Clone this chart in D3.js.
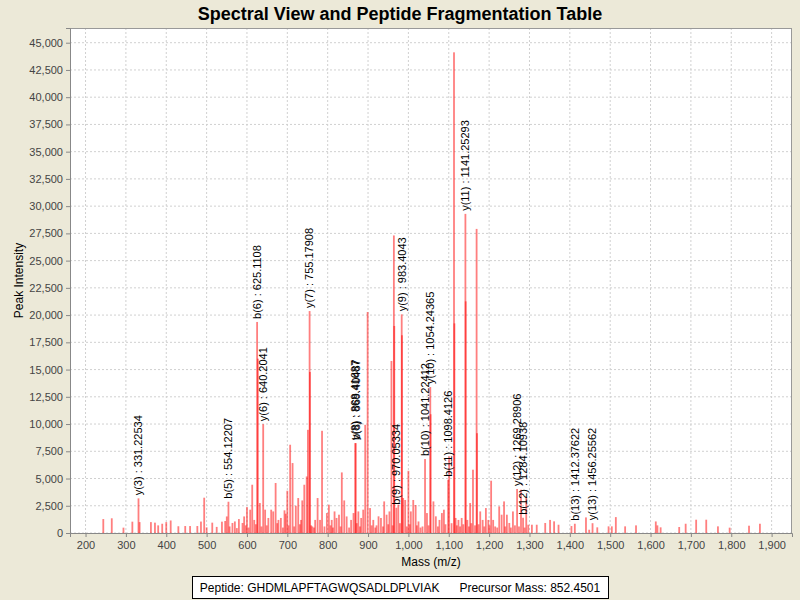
<!DOCTYPE html>
<html>
<head>
  <script src="https://cdnjs.cloudflare.com/ajax/libs/d3/7.8.5/d3.min.js"></script>
  <style>
    body { margin: 0; background: #ece9d8; }
    svg { display: block; font-family: "Liberation Sans", Arial, sans-serif; }
    .tick text { fill: #444; font-size: 11px; }
    .tick line { stroke: #888; }
    .grid line { stroke: #d0d0d0; stroke-dasharray: 2,2; }
    .ann { font-size: 11px; fill: #000; }
  </style>
</head>
<body>
  <div id="chart"></div>
  <script>
    // Peaks: [m/z, intensity]
    const peaks = [
      [244, 1280], [265, 1350], [294, 490], [316, 1040], [331.22534, 3180], [334, 1000],
      [362, 1000], [372, 950], [380, 700], [390, 850], [400, 1000], [411, 1150],
      [430, 620], [447, 640], [459, 640], [477, 640], [486, 1050], [494, 3240],
      [500, 520], [514, 950], [525, 560], [538, 1040], [546, 1100], [550, 1520],
      [554.12207, 2870], [557, 600], [564, 920], [570, 1060], [575, 450], [580, 1280],
      [589, 920], [593, 1520], [597, 700], [600, 2380], [604, 500], [608, 2140],
      [613, 4430], [618, 1200], [622, 800], [625.1108, 19370], [627, 16000], [632, 2750],
      [636, 600], [640.2041, 9990], [645, 2140], [649, 700], [653, 1380], [660, 2140],
      [665, 1980], [671, 4590], [675, 900], [678, 1200], [684, 1380], [689, 500],
      [693, 2080], [696, 1770], [700, 3880], [703, 700], [707, 8100], [713, 6420],
      [717, 600], [721, 2500], [727, 3210], [731, 800], [734, 1200], [737, 2990],
      [742, 4430], [748, 5190], [751, 9470], [755.17908, 20370], [756, 14780], [759, 700],
      [762, 600], [766, 500], [769, 1200], [775, 3210], [781, 1200], [786, 9380],
      [792, 600], [798, 1830], [803, 2600], [807, 700], [810, 1200], [813, 500],
      [817, 1980], [822, 1380], [828, 1680], [832, 600], [835, 5560], [841, 2990],
      [847, 1520], [853, 500], [858, 1200], [864, 1830], [868.41687, 8250], [869.40487, 8250],
      [872, 900], [876, 1980], [880, 600], [883, 1380], [888, 2140], [893, 9930],
      [899, 20280], [905, 2290], [909, 700], [913, 1200], [918, 500], [921, 700],
      [926, 1530], [932, 1380], [937, 600], [940, 2900], [946, 1680], [950, 800],
      [953, 1980], [958, 15790], [961, 700], [964, 27310], [965, 19000], [970.05334, 2320],
      [975, 2600], [979, 900], [983.4043, 20070], [984, 18150], [987, 3210], [992, 3030],
      [996, 600], [1000, 5710], [1003, 800], [1006, 1980], [1012, 3030], [1018, 2570],
      [1021, 700], [1025, 1060], [1030, 500], [1035, 600], [1041.22412, 6790], [1046, 1830],
      [1050, 700], [1054.24365, 13400], [1055, 10900], [1062, 2900], [1068, 1530], [1073, 600],
      [1077, 1200], [1083, 1830], [1088, 2140], [1092, 800], [1098.4126, 4890], [1101, 7030],
      [1107, 900], [1113, 44117], [1114, 19240], [1117, 1380], [1120, 700], [1124, 1200],
      [1128, 600], [1132, 1380], [1136, 800], [1141.25293, 29290], [1142, 21260], [1146, 1200],
      [1150, 600], [1153, 2750], [1156, 900], [1160, 5810], [1165, 700], [1169, 27910],
      [1170, 9160], [1174, 800], [1178, 1980], [1184, 1200], [1188, 600], [1192, 2290],
      [1198, 1200], [1201, 700], [1205, 4800], [1210, 1200], [1215, 600], [1220, 500],
      [1225, 2440], [1231, 1680], [1237, 2900], [1240, 600], [1244, 1680], [1250, 920],
      [1254, 500], [1259, 1980], [1264, 700], [1269.28906, 4040], [1274, 600], [1279, 3970],
      [1284.10938, 1400], [1288, 500], [1292, 3300], [1297, 760], [1306, 760], [1318, 760],
      [1339, 920], [1351, 1200], [1361, 1070], [1372, 760], [1404, 640], [1412.37622, 850],
      [1440, 1430], [1448, 300], [1456.25562, 900], [1468, 520], [1496, 610], [1504, 610],
      [1514, 1460], [1537, 610], [1564, 700], [1613, 1060], [1617, 700], [1625, 520],
      [1671, 550], [1687, 850], [1713, 1220], [1738, 1220], [1767, 610], [1796, 490],
      [1844, 670], [1871, 850]
    ];

    // Fragment ion annotations
    const ionNames = ["y(3)", "b(5)", "b(6)", "y(6)", "y(7)", "y(8)", "b(8)", "b(9)", "y(9)",
      "b(10)", "y(10)", "b(11)", "y(11)", "y(12)", "b(12)", "b(13)", "y(13)"];
    const ionMz = [331.22534, 554.12207, 625.1108, 640.2041, 755.17908, 868.41687, 869.40487,
      970.05334, 983.4043, 1041.22412, 1054.24365, 1098.4126, 1141.25293, 1269.28906,
      1284.10938, 1412.37622, 1456.25562];

    const xTicks = d3.range(200, 1901, 100);
    const yTicks = d3.range(0, 45001, 2500);

    const title = "Spectral View and Peptide Fragmentation Table";
    const peptide = "GHDMLAPFTAGWQSADLDPLVIAK";
    const precursor = "852.4501";

    const W = 800, H = 600;
    const plot = {left: 70, right: 792, top: 28, bottom: 533};

    const svg = d3.select("#chart").append("svg")
      .attr("width", W)
      .attr("height", H);

    svg.append("rect").attr("width", W).attr("height", H).attr("fill", "#ece9d8");

    const x = d3.scaleLinear().domain([161.5, 1950.5]).range([plot.left, plot.right]);
    const y = d3.scaleLinear().domain([0, 46350]).range([plot.bottom, plot.top]);

    // Plot background
    svg.append("rect")
      .attr("x", plot.left).attr("y", plot.top)
      .attr("width", plot.right - plot.left).attr("height", plot.bottom - plot.top)
      .attr("fill", "#fff");

    // Gridlines
    svg.append("g").attr("class", "grid")
      .selectAll("line").data(xTicks).join("line")
        .attr("x1", d => x(d)).attr("x2", d => x(d))
        .attr("y1", plot.top).attr("y2", plot.bottom);
    svg.append("g").attr("class", "grid")
      .selectAll("line").data(yTicks).join("line")
        .attr("x1", plot.left).attr("x2", plot.right)
        .attr("y1", d => y(d)).attr("y2", d => y(d));

    // Peaks
    svg.append("g")
      .selectAll("rect").data(peaks).join("rect")
        .attr("x", d => x(d[0]) - 0.9)
        .attr("width", 1.8)
        .attr("y", d => y(d[1]))
        .attr("height", d => y(0) - y(d[1]))
        .attr("fill", "#ff0000")
        .attr("fill-opacity", 0.5);

    // Annotations
    const peakOf = mz => peaks.find(p => p[0] === mz)[1];
    svg.append("g")
      .selectAll("text").data(ionNames).join("text")
        .attr("class", "ann")
        .attr("transform", (d, i) => `translate(${x(ionMz[i])},${y(peakOf(ionMz[i])) - 3}) rotate(-90)`)
        .attr("dy", "0.35em")
        .text((d, i) => `${d} : ${ionMz[i]}`);

    // Plot outline
    svg.append("rect")
      .attr("x", plot.left + 0.5).attr("y", plot.top + 0.5)
      .attr("width", plot.right - plot.left - 1).attr("height", plot.bottom - plot.top)
      .attr("fill", "none").attr("stroke", "#999");

    // Axes
    const fmt = d3.format(",");
    const xAxis = svg.append("g")
      .attr("transform", `translate(0,${plot.bottom})`)
      .call(d3.axisBottom(x).tickValues(xTicks).tickFormat(fmt).tickSizeOuter(0).tickSize(4).tickPadding(4));
    xAxis.select(".domain").attr("stroke", "#888");

    const yAxis = svg.append("g")
      .attr("transform", `translate(${plot.left},0)`)
      .call(d3.axisLeft(y).tickValues(yTicks).tickFormat(fmt).tickSizeOuter(0).tickSize(4).tickPadding(3));
    yAxis.select(".domain").attr("stroke", "#888");
    svg.selectAll(".tick text").style("font-family", "'Liberation Sans', Arial, sans-serif");

    // Axis labels
    svg.append("text")
      .attr("x", (plot.left + plot.right) / 2).attr("y", 566)
      .attr("text-anchor", "middle")
      .style("font-size", "12px")
      .text("Mass (m/z)");

    svg.append("text")
      .attr("transform", `translate(23,${(plot.top + plot.bottom) / 2}) rotate(-90)`)
      .attr("text-anchor", "middle")
      .style("font-size", "12px")
      .text("Peak Intensity");

    // Title
    svg.append("text")
      .attr("x", 400).attr("y", 20)
      .attr("text-anchor", "middle")
      .style("font-size", "18px")
      .style("font-weight", "bold")
      .text(title);

    // Legend box
    svg.append("rect")
      .attr("x", 192.5).attr("y", 576.5)
      .attr("width", 416).attr("height", 22)
      .attr("fill", "#fff").attr("stroke", "#000");

    svg.append("text")
      .attr("x", 400).attr("y", 592)
      .attr("text-anchor", "middle")
      .attr("xml:space", "preserve")
      .style("font-size", "12px")
      .style("white-space", "pre")
      .text(`Peptide: ${peptide}      Precursor Mass: ${precursor}`);
  </script>
</body>
</html>
